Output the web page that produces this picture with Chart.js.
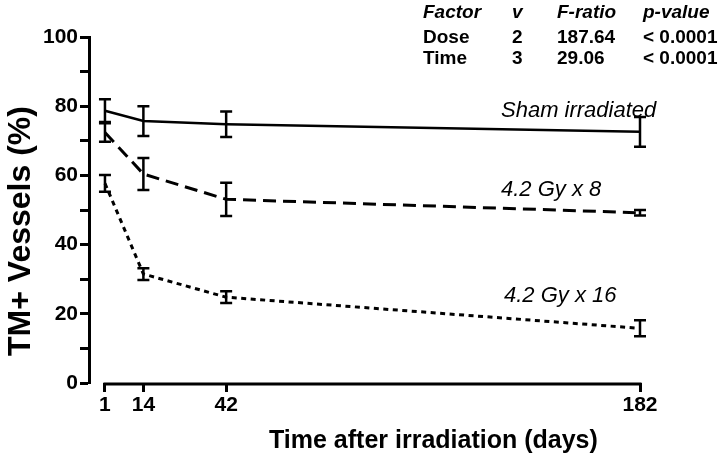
<!DOCTYPE html>
<html>
<head>
<meta charset="utf-8">
<script src="https://cdn.jsdelivr.net/npm/chart.js@4.4.0/dist/chart.umd.min.js"></script>
<style>
  body { margin: 0; background: #fff; }
  #wrap { width: 720px; height: 460px; }
</style>
</head>
<body>
<div id="wrap"><canvas id="tm-chart" width="720" height="460"></canvas></div>
<script>
// Days after irradiation
const days = [1, 14, 42, 182];
const dayTicks = [1, 14, 42, 182];
const yTicks = [0, 20, 40, 60, 80, 100];

// Mean TM+ vessels (%) and half-height of the error bars
const sham = [78.7, 75.7, 74.8, 72.6];
const shamErr = [3.3, 4.3, 3.7, 4.3];
const gy8 = [72.4, 60.4, 53.1, 49.2];
const gy8Err = [2.7, 4.6, 4.8, 0.8];
const gy16 = [57.7, 31.5, 24.8, 15.8];
const gy16Err = [2.4, 1.7, 1.7, 2.3];

const seriesNames = ['Sham irradiated', '4.2 Gy x 8', '4.2 Gy x 16'];

// ANOVA table, top right
const tableHead = ['Factor', 'v', 'F-ratio', 'p-value'];
const tableRows = [
  ['Dose', '2', '187.64', '< 0.0001'],
  ['Time', '3', '29.06', '< 0.0001']
];

const FAMILY = '"Liberation Sans", Arial, Helvetica, sans-serif';
const errs = [shamErr, gy8Err, gy16Err];

const toPoints = (vals) => days.map((d, i) => ({ x: d, y: vals[i] }));

// draws what Chart.js has no element for: error bars, x axis line, texts
const extras = {
  id: 'extras',
  afterDatasetsDraw(chart) {
    const { ctx, chartArea, scales: { x, y } } = chart;
    ctx.save();
    ctx.strokeStyle = '#000';
    ctx.fillStyle = '#000';

    // x axis only runs from first to last day
    ctx.lineWidth = 3;
    ctx.beginPath();
    ctx.moveTo(x.getPixelForValue(dayTicks[0]) - 1.5, chartArea.bottom + 1);
    ctx.lineTo(x.getPixelForValue(dayTicks[dayTicks.length - 1]) + 1.5, chartArea.bottom + 1);
    ctx.stroke();

    // error bars
    ctx.lineWidth = 2.5;
    chart.data.datasets.forEach((ds, k) => {
      ds.data.forEach((p, i) => {
        const px = x.getPixelForValue(p.x);
        const top = y.getPixelForValue(p.y + errs[k][i]);
        const bot = y.getPixelForValue(p.y - errs[k][i]);
        ctx.beginPath();
        ctx.moveTo(px, top); ctx.lineTo(px, bot);
        ctx.moveTo(px - 6, top); ctx.lineTo(px + 6, top);
        ctx.moveTo(px - 6, bot); ctx.lineTo(px + 6, bot);
        ctx.stroke();
      });
    });

    // series names
    ctx.font = 'italic 22px ' + FAMILY;
    ctx.textAlign = 'left';
    ctx.textBaseline = 'alphabetic';
    ctx.fillText(seriesNames[0], 501, 117);
    ctx.fillText(seriesNames[1], 501, 196);
    ctx.fillText(seriesNames[2], 504, 302);

    // table
    const cols = [423, 512, 557, 643];
    ctx.font = 'italic bold 19px ' + FAMILY;
    tableHead.forEach((t, i) => ctx.fillText(t, cols[i], 18));
    ctx.font = 'bold 19px ' + FAMILY;
    tableRows.forEach((row, r) => {
      row.forEach((t, i) => ctx.fillText(t, cols[i], 43 + r * 21));
    });

    // axis titles
    ctx.font = 'bold 25px ' + FAMILY;
    ctx.fillText('Time after irradiation (days)', 269, 448);
    ctx.save();
    ctx.translate(30, 231);
    ctx.rotate(-Math.PI / 2);
    ctx.font = 'bold 32px ' + FAMILY;
    ctx.textAlign = 'center';
    ctx.fillText('TM+ Vessels (%)', 0, 0);
    ctx.restore();

    ctx.restore();
  }
};

const tickFont = { family: FAMILY, size: 21, weight: 'bold' };

new Chart(document.getElementById('tm-chart'), {
  type: 'line',
  data: {
    datasets: [
      {
        label: seriesNames[0],
        data: toPoints(sham),
        borderColor: '#000',
        borderWidth: 2.5,
        fill: false
      },
      {
        label: seriesNames[1],
        data: toPoints(gy8),
        borderColor: '#000',
        borderWidth: 3,
        borderDash: [13, 7],
        fill: false
      },
      {
        label: seriesNames[2],
        data: toPoints(gy16),
        borderColor: '#000',
        borderWidth: 3,
        borderDash: [5, 4.5],
        fill: false
      }
    ]
  },
  options: {
    responsive: false,
    animation: false,
    layout: { padding: { left: 0, top: 37, right: 80, bottom: 0 } },
    elements: { point: { radius: 0 }, line: { tension: 0 } },
    plugins: {
      legend: { display: false },
      tooltip: { enabled: false }
    },
    scales: {
      x: {
        type: 'linear',
        min: -4.4,
        max: 182,
        afterBuildTicks: (s) => { s.ticks = dayTicks.map(v => ({ value: v })); },
        afterFit: (s) => { s.height = 77; },
        border: { display: false },
        grid: { drawOnChartArea: false, tickLength: 9, tickWidth: 3, tickColor: '#000' },
        ticks: { color: '#000', font: tickFont, padding: 1, maxRotation: 0, autoSkip: false }
      },
      y: {
        min: 0,
        max: 100,
        afterFit: (s) => { s.width = 89; },
        border: { display: true, color: '#000', width: 3 },
        grid: { drawOnChartArea: false, tickLength: 9, tickWidth: 3, tickColor: '#000' },
        ticks: {
          stepSize: 10,
          color: '#000',
          font: tickFont,
          padding: 2,
          callback: (v) => yTicks.includes(v) ? v : ''
        }
      }
    }
  },
  plugins: [extras]
});
</script>
</body>
</html>
